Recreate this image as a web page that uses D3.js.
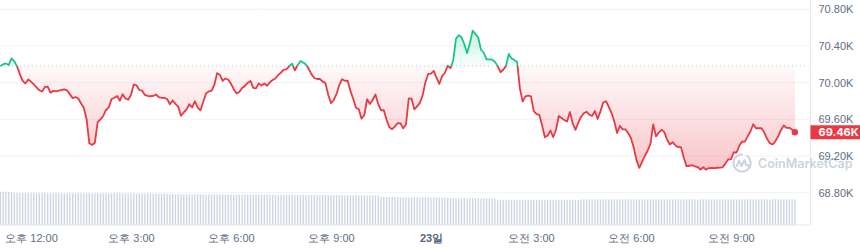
<!DOCTYPE html>
<html>
<head>
<meta charset="utf-8">
<script src="https://cdn.jsdelivr.net/npm/d3@7"></script>
<style>
body{margin:0;background:#fff;}
svg{display:block;font-family:Inter,'Noto Sans CJK KR',sans-serif;}
.axis-y text{fill:#616e85;font-size:11px;}
.axis-x text{fill:#616e85;font-size:11px;}
.axis-x text.day{font-weight:700;fill:#58667e;}
.last-label{fill:#fff;font-size:11px;font-weight:700;}
.watermark{fill:#cbd3e1;font-size:12.5px;font-weight:600;}
</style>
</head>
<body>
<svg id="chart" width="860" height="248"></svg>
<script>
//--------DATA--------
const startTime = new Date(2024, 4, 22, 11, 5);
const stepMinutes = 5;
const openPrice = 70182;

// BTC price, one value every 5 minutes
const prices = [
    70182,70201,70209,70193,70264,70231,70177,70090,70019,69991,70035,70011,
    69980,69948,69917,69904,69953,69956,69891,69910,69904,69912,69920,69926,
    69915,69875,69830,69844,69828,69775,69727,69604,69339,69321,69345,69571,
    69599,69637,69702,69730,69822,69836,69855,69803,69874,69828,69814,69868,
    69980,69970,69920,69912,69866,69855,69852,69855,69871,69842,69833,69834,
    69822,69765,69806,69768,69739,69639,69675,69708,69765,69731,69797,69730,
    69697,69792,69882,69905,69910,69975,70103,70086,70019,70046,70032,69988,
    69929,69881,69899,69942,69964,69997,70019,69944,69938,69992,69968,69991,
    69967,70005,70029,70045,70084,70109,70142,70146,70182,70208,70135,70193,
    70236,70220,70199,70149,70090,70051,70040,70040,70011,69995,69868,69775,
    69811,69877,69975,70037,70020,70022,69910,69822,69727,69710,69607,69648,
    69819,69768,69811,69871,69766,69699,69700,69597,69514,69493,69522,69558,
    69557,69502,69544,69828,69825,69709,69741,69779,69862,70008,70095,70098,
    70128,70051,69986,70071,70108,70185,70158,70242,70479,70518,70495,70419,
    70323,70430,70567,70531,70493,70359,70326,70255,70255,70250,70228,70183,
    70114,70141,70182,70313,70265,70248,70226,69937,69793,69851,69858,69850,
    69689,69658,69648,69534,69405,69423,69478,69405,69487,69637,69615,69591,
    69577,69680,69558,69486,69561,69626,69667,69683,69650,69637,69691,69604,
    69687,69784,69797,69737,69667,69577,69451,69528,69492,69491,69448,69395,
    69290,69152,69070,69135,69203,69258,69332,69544,69414,69456,69486,69460,
    69378,69326,69351,69315,69296,69296,69181,69089,69094,69099,69087,69080,
    69052,69078,69051,69069,69071,69068,69072,69073,69077,69117,69164,69165,
    69241,69238,69314,69357,69357,69414,69467,69546,69503,69503,69503,69455,
    69386,69340,69325,69364,69417,69484,69533,69506,69508,69487,69459
];

// 24h volume (billion USD), same timestamps
const volumes = [
    33.3,33.4,33.2,33.3,33.1,31.9,31.8,31.8,31.7,31.8,31.7,31.7,
    31.8,31.7,31.6,31.7,31.7,31.8,31.6,31.7,31.7,31.6,31.7,31.6,
    31.7,31.6,31.6,31.7,31.5,31.6,31.6,31.5,31.6,31.5,31.6,31.5,
    31.5,31.6,31.5,31.4,31.5,31.5,31.4,31.5,31.4,31.4,31.5,31.4,
    31.4,31.3,31.4,31.3,31.3,31.4,31.3,31.2,31.3,31.2,31.2,31.3,
    31.2,31.1,30.8,30.7,30.8,30.7,30.6,30.7,30.6,30.6,30.7,30.6,
    30.6,30.5,30.6,30.5,30.5,30.6,30.5,30.4,30.5,30.4,30.4,30.5,
    30.4,30.4,30.3,30.4,30.3,30.3,30.4,30.3,30.2,30.3,30.2,30.2,
    30.3,30.2,30.2,30.1,30.2,30.1,30.1,30.2,30.1,30.0,30.1,30.0,
    30.0,30.1,30.0,29.9,30.0,29.9,29.9,30.0,29.9,29.9,29.8,29.9,
    29.8,29.8,29.9,29.8,29.7,29.8,29.7,29.7,29.8,29.7,29.6,29.7,
    29.6,29.6,29.7,29.6,29.5,28.0,27.9,27.9,27.8,27.9,27.8,27.8,
    27.8,27.7,27.8,27.7,27.7,27.6,27.7,27.6,27.6,27.7,27.6,27.5,
    27.6,27.5,27.5,27.4,27.5,26.9,26.8,26.9,26.8,26.8,26.7,26.8,
    26.7,26.7,26.8,26.7,26.6,26.7,26.6,26.6,26.5,26.6,26.5,25.4,
    25.3,25.4,25.3,25.3,25.2,25.3,25.2,25.3,25.2,25.2,25.3,25.2,
    25.2,25.1,25.2,25.1,25.2,25.1,25.1,25.2,25.1,25.2,25.1,25.1,
    25.2,25.1,25.2,25.1,25.2,25.6,25.7,25.6,25.7,25.7,25.6,25.7,
    25.7,25.8,25.7,25.6,25.7,25.7,25.8,25.7,25.6,25.7,25.7,25.8,
    25.7,25.7,25.6,25.7,25.8,25.7,25.7,25.6,25.7,25.8,25.7,25.7,
    25.6,25.7,25.7,25.8,25.7,25.6,25.7,25.7,25.8,25.7,25.7,25.6,
    25.7,25.8,25.7,25.7,25.6,25.7,25.8,25.7,25.7,25.6,25.7,25.7,
    25.8,25.7,25.6,25.7,25.7,25.8,25.7,25.6,25.7,25.7,25.8,25.7,
    25.7,25.6,25.7,25.8,25.7,25.7,25.6,25.7,25.8,25.7,25.6
];

const yTicks = [68800, 69200, 69600, 70000, 70400, 70800];
const xTickTimes = [
    new Date(2024, 4, 22, 12), new Date(2024, 4, 22, 15), new Date(2024, 4, 22, 18),
    new Date(2024, 4, 22, 21), new Date(2024, 4, 23, 0), new Date(2024, 4, 23, 3),
    new Date(2024, 4, 23, 6), new Date(2024, 4, 23, 9)
];
const xTickLabels = ['오후 12:00', '오후 3:00', '오후 6:00', '오후 9:00', '23일', '오전 3:00', '오전 6:00', '오전 9:00'];

class priceChart{
    constructor(){
        this.up = '#16c784';
        this.down = '#ea3943';
    }

//--------SETTERS--------

    setData(prices, volumes){
        this.data = prices.map((p, i) => ({
            time: new Date(startTime.getTime() + i * stepMinutes * 60000),
            price: p,
            volume: volumes[i]
        }));
        return this;
    }

    setSelection(selection){
        this.selection = selection;
        return this;
    }

    setSize(size){
        this.size = size;
        this.plotRight = 810.5;
        this.axisY = 225;
        return this;
    }

//--------DRAWING--------

    draw(){
        this.scaleX = d3.scaleTime()
            .domain([xTickTimes[0], xTickTimes[xTickTimes.length - 1]])
            .range([31, 731]);

        this.scaleY = d3.scaleLinear()
            .domain([68800, 70800])
            .range([192.7, 9.3]);

        this.scaleV = d3.scaleLinear()
            .domain([0, 40])
            .range([this.axisY, this.axisY - 40]);

        this.openY = this.scaleY(openPrice);

        this.drawDefs();
        this.drawGrid();
        this.drawVolume();
        this.drawWatermark();
        this.drawAreas();
        this.drawLines();
        this.drawAxes();
        this.drawLastPrice();
    }

    drawDefs(){
        let defs = this.selection.append('defs');

        defs.append('clipPath').attr('id', 'clip-up')
            .append('rect')
            .attr('x', 0).attr('y', 0)
            .attr('width', this.plotRight).attr('height', this.openY);

        defs.append('clipPath').attr('id', 'clip-down')
            .append('rect')
            .attr('x', 0).attr('y', this.openY)
            .attr('width', this.plotRight).attr('height', this.size.h - this.openY);

        let gDown = defs.append('linearGradient')
            .attr('id', 'grad-down')
            .attr('gradientUnits', 'userSpaceOnUse')
            .attr('x1', 0).attr('x2', 0)
            .attr('y1', this.openY).attr('y2', this.scaleY(69000));
        gDown.append('stop').attr('offset', 0).attr('stop-color', this.down).attr('stop-opacity', 0.03);
        gDown.append('stop').attr('offset', 1).attr('stop-opacity', 0.3).attr('stop-color', this.down);

        let gUp = defs.append('linearGradient')
            .attr('id', 'grad-up')
            .attr('gradientUnits', 'userSpaceOnUse')
            .attr('x1', 0).attr('x2', 0)
            .attr('y1', this.openY).attr('y2', this.scaleY(70600));
        gUp.append('stop').attr('offset', 0).attr('stop-color', this.up).attr('stop-opacity', 0.03);
        gUp.append('stop').attr('offset', 1).attr('stop-color', this.up).attr('stop-opacity', 0.25);
    }

    drawGrid(){
        this.selection.append('g')
            .selectAll('line')
            .data(yTicks)
            .join('line')
            .attr('x1', 0)
            .attr('x2', this.plotRight)
            .attr('y1', d => this.scaleY(d))
            .attr('y2', d => this.scaleY(d))
            .attr('stroke', '#f0f2f5');

        //open price reference
        this.selection.append('line')
            .attr('x1', 0)
            .attr('x2', this.plotRight - 2)
            .attr('y1', this.openY)
            .attr('y2', this.openY)
            .attr('stroke', '#c3c9d3')
            .attr('stroke-dasharray', '1,3');

        //right separator
        this.selection.append('line')
            .attr('x1', this.plotRight).attr('x2', this.plotRight)
            .attr('y1', 0).attr('y2', this.axisY)
            .attr('stroke', '#e6e9ee');
    }

    drawVolume(){
        this.selection.append('g')
            .selectAll('rect')
            .data(this.data)
            .join('rect')
            .attr('x', d => this.scaleX(d.time) - 0.65)
            .attr('width', 1.3)
            .attr('y', d => this.scaleV(d.volume))
            .attr('height', d => this.axisY - this.scaleV(d.volume))
            .attr('fill', '#cdd4e2');
    }

    drawWatermark(){
        let g = this.selection.append('g')
            .attr('transform', 'translate(742, 163)');

        g.append('path')
            .attr('d', d3.arc()({innerRadius: 7.6, outerRadius: 9.6, startAngle: 0.5, endAngle: 2 * Math.PI + 0.1}))
            .attr('fill', '#cbd3e1');

        g.append('path')
            .attr('d', 'M-5.5,4 L-3,-2.5 L-0.5,3 L2.5,-3 L4,1.5 L9,4')
            .attr('fill', 'none')
            .attr('stroke', '#cbd3e1')
            .attr('stroke-width', 2)
            .attr('stroke-linejoin', 'round');

        this.selection.append('text')
            .attr('class', 'watermark')
            .attr('x', 758)
            .attr('y', 167.5)
            .text('CoinMarketCap');
    }

    drawAreas(){
        let area = d3.area()
            .x(d => this.scaleX(d.time))
            .y0(this.openY)
            .y1(d => this.scaleY(d.price));

        this.selection.append('path')
            .datum(this.data)
            .attr('d', area)
            .attr('fill', 'url(#grad-up)')
            .attr('clip-path', 'url(#clip-up)');

        this.selection.append('path')
            .datum(this.data)
            .attr('d', area)
            .attr('fill', 'url(#grad-down)')
            .attr('clip-path', 'url(#clip-down)');
    }

    drawLines(){
        let line = d3.line()
            .x(d => this.scaleX(d.time))
            .y(d => this.scaleY(d.price));

        [['clip-up', this.up], ['clip-down', this.down]].forEach(([clip, color]) => {
            this.selection.append('path')
                .datum(this.data)
                .attr('d', line)
                .attr('fill', 'none')
                .attr('stroke', color)
                .attr('stroke-width', 1.8)
                .attr('stroke-linejoin', 'round')
                .attr('clip-path', `url(#${clip})`);
        });
    }

    drawAxes(){
        let axisX = d3.axisBottom(this.scaleX)
            .tickValues(xTickTimes)
            .tickFormat((d, i) => xTickLabels[i])
            .tickSize(0)
            .tickPadding(9);

        let gx = this.selection.append('g')
            .attr('class', 'axis-x')
            .attr('transform', `translate(0, ${this.axisY})`)
            .call(axisX);
        gx.select('.domain').remove();
        gx.selectAll('text').classed('day', (d, i) => i == 4).attr('font-family', null).attr('font-size', null);

        this.selection.append('line')
            .attr('x1', 0).attr('x2', this.plotRight)
            .attr('y1', this.axisY).attr('y2', this.axisY)
            .attr('stroke', '#e3e6eb');

        let axisY = d3.axisRight(this.scaleY)
            .tickValues(yTicks)
            .tickFormat(d => (d / 1000).toFixed(2) + 'K')
            .tickSize(0)
            .tickPadding(8);

        let gy = this.selection.append('g')
            .attr('class', 'axis-y')
            .attr('transform', `translate(${this.plotRight}, 0)`)
            .call(axisY);
        gy.select('.domain').remove();
        gy.selectAll('text').attr('font-family', null).attr('font-size', null);
    }

    drawLastPrice(){
        let last = this.data[this.data.length - 1];
        let ly = this.scaleY(last.price);

        this.selection.append('circle')
            .attr('cx', this.scaleX(last.time))
            .attr('cy', ly)
            .attr('r', 3.2)
            .attr('fill', this.down);

        this.selection.append('rect')
            .attr('x', this.plotRight)
            .attr('y', ly - 7)
            .attr('width', this.size.w - this.plotRight)
            .attr('height', 14)
            .attr('fill', this.down);

        this.selection.append('text')
            .attr('class', 'last-label')
            .attr('x', this.plotRight + 8)
            .attr('y', ly)
            .attr('dy', '0.35em')
            .text((last.price / 1000).toFixed(2) + 'K');
    }
}

new priceChart()
    .setSelection(d3.select('#chart'))
    .setSize({w: 860, h: 248})
    .setData(prices, volumes)
    .draw();
</script>
</body>
</html>
